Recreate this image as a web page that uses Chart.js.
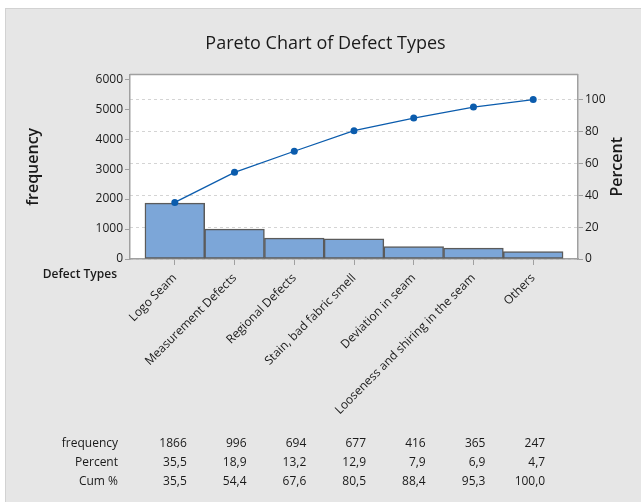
<!DOCTYPE html>
<html>
<head>
<meta charset="utf-8">
<script src="https://cdn.jsdelivr.net/npm/chart.js@4"></script>
<style>
  html, body { margin: 0; padding: 0; background: #fff; }
  #wrap { width: 641px; height: 502px; }
</style>
</head>
<body>
<div id="wrap"><canvas id="paretoChart" width="641" height="502"></canvas></div>
<script>
// values
const defectTypes = ['Logo Seam', 'Measurement Defects', 'Regional Defects', 'Stain, bad fabric smell',
    'Deviation in seam', 'Looseness and shiring in the seam', 'Others'];
const frequency = [1866, 996, 694, 677, 416, 365, 247];
const percent = ['35,5', '18,9', '13,2', '12,9', '7,9', '6,9', '4,7'];
const cumPercent = [35.5, 54.4, 67.6, 80.5, 88.4, 95.3, 100.0];
const cumLabels = ['35,5', '54,4', '67,6', '80,5', '88,4', '95,3', '100,0'];
const freqTicks = [0, 1000, 2000, 3000, 4000, 5000, 6000];
const pctTicks = [0, 20, 40, 60, 80, 100];

const FONT = "'Open Sans', sans-serif";
const TEXT = '#1a1a1a';
const FRAME = '#a0a0a0';

document.addEventListener('DOMContentLoaded', function() {
    const ctx = document.getElementById('paretoChart').getContext('2d');

    // background, plot frame, right axis title and the table under the chart
    const paretoDecor = {
        id: 'paretoDecor',
        beforeDraw(chart) {
            const c = chart.ctx;
            const a = chart.chartArea;
            c.save();
            c.fillStyle = '#ffffff';
            c.fillRect(0, 0, chart.width, chart.height);
            c.fillStyle = '#e6e6e6';
            c.fillRect(6, 9, chart.width - 6, chart.height - 9);
            c.strokeStyle = '#d2d2d2';
            c.lineWidth = 1;
            c.strokeRect(5.5, 8.5, chart.width, chart.height);
            c.fillStyle = '#ffffff';
            c.fillRect(a.left, a.top, a.right - a.left, a.bottom - a.top);
            c.restore();
        },
        afterDraw(chart) {
            const c = chart.ctx;
            const a = chart.chartArea;
            const x = chart.scales.x;
            c.save();
            c.strokeStyle = FRAME;
            c.lineWidth = 1.5;
            c.beginPath();
            c.moveTo(a.left, a.top);
            c.lineTo(a.right, a.top);
            c.stroke();

            c.fillStyle = TEXT;
            c.font = '600 16px ' + FONT;
            c.textAlign = 'center';
            c.textBaseline = 'middle';
            c.translate(617, (a.top + a.bottom) / 2);
            c.rotate(-Math.PI / 2);
            c.fillText('Percent', 0, 0);
            c.setTransform(1, 0, 0, 1, 0, 0);

            c.font = '600 12px ' + FONT;
            c.textAlign = 'right';
            c.fillText('Defect Types', 117, 275);

            c.font = '12px ' + FONT;
            const rows = [
                ['frequency', frequency.map(String), 444],
                ['Percent', percent, 463],
                ['Cum %', cumLabels, 482]
            ];
            rows.forEach(function(r) {
                c.fillText(r[0], 118, r[2]);
                r[1].forEach(function(v, i) {
                    c.fillText(v, x.getPixelForValue(i) + 12, r[2]);
                });
            });
            c.restore();
        }
    };

    window.paretoChart = new Chart(ctx, {
        type: 'bar',
        data: {
            datasets: [
                {
                    type: 'line',
                    label: 'Cum %',
                    data: cumPercent.map((v, i) => ({ x: i, y: v })),
                    yAxisID: 'y1',
                    borderColor: '#0b5cad',
                    backgroundColor: '#0b5cad',
                    borderWidth: 1.3,
                    pointRadius: 3.5,
                    pointBorderWidth: 0,
                    tension: 0,
                    order: 0
                },
                {
                    label: 'frequency',
                    data: frequency.map((v, i) => ({ x: i, y: v })),
                    yAxisID: 'y',
                    backgroundColor: '#7ca6d8',
                    borderColor: '#5b5b5b',
                    borderWidth: 1.5,
                    borderSkipped: false,
                    barPercentage: 1,
                    categoryPercentage: 1,
                    order: 1
                }
            ]
        },
        options: {
            responsive: false,
            animation: false,
            layout: { padding: { left: 10, right: 0, top: 0, bottom: 0 } },
            plugins: {
                legend: { display: false },
                tooltip: { enabled: false },
                title: {
                    display: true,
                    text: 'Pareto Chart of Defect Types',
                    color: TEXT,
                    font: { family: FONT, size: 18, weight: 'normal' },
                    padding: { top: 33, bottom: 20 }
                }
            },
            scales: {
                x: {
                    type: 'linear',
                    min: -0.75,
                    max: 6.75,
                    offset: false,
                    afterFit: s => { s.height = 243; },
                    grid: { drawOnChartArea: false, offset: false, tickLength: 6, tickColor: FRAME },
                    border: { color: FRAME, width: 1.5 },
                    ticks: {
                        stepSize: 1,
                        includeBounds: false,
                        autoSkip: false,
                        maxRotation: 45,
                        minRotation: 45,
                        padding: 6,
                        color: TEXT,
                        font: { family: FONT, size: 12 },
                        callback: v => defectTypes[v] ?? ''
                    }
                },
                y: {
                    position: 'left',
                    min: 0,
                    max: 6154,
                    afterFit: s => { s.width = 120; },
                    grid: { drawOnChartArea: false, tickLength: 5, tickColor: FRAME },
                    border: { color: FRAME, width: 1.5 },
                    title: {
                        display: true,
                        text: 'frequency',
                        color: TEXT,
                        font: { family: FONT, size: 16, weight: '600' },
                        padding: { top: 13.5 }
                    },
                    afterBuildTicks: s => { s.ticks = freqTicks.map(v => ({ value: v })); },
                    ticks: {
                        padding: 2,
                        color: TEXT,
                        font: { family: FONT, size: 12 },
                        callback: v => String(v)
                    }
                },
                y1: {
                    position: 'right',
                    min: 0,
                    max: 115.7,
                    afterFit: s => { s.width = 63; },
                    grid: { drawOnChartArea: true, color: '#d4d4d4', tickLength: 5, tickColor: FRAME },
                    border: { color: FRAME, width: 1.5, dash: [3, 3] },
                    afterBuildTicks: s => { s.ticks = pctTicks.map(v => ({ value: v })); },
                    ticks: {
                        padding: 2,
                        color: TEXT,
                        font: { family: FONT, size: 12 },
                        callback: v => String(v)
                    }
                }
            }
        },
        plugins: [paretoDecor]
    });
});
</script>
</body>
</html>
